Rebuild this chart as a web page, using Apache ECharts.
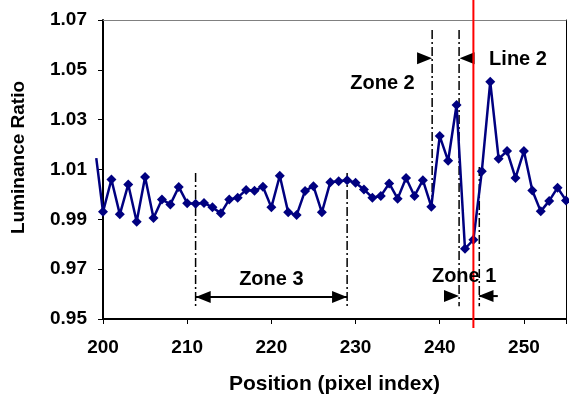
<!DOCTYPE html>
<html>
<head>
<meta charset="utf-8">
<script src="https://cdn.jsdelivr.net/npm/echarts@6/dist/echarts.min.js"></script>
<style>
  html, body { margin: 0; padding: 0; background: #fff; }
  #chart { width: 569px; height: 400px; }
</style>
</head>
<body>
<div id="chart"></div>
<script>
// pixel index positions
const positions = [200, 201, 202, 203, 204, 205, 206, 207, 208, 209,
  210, 211, 212, 213, 214, 215, 216, 217, 218, 219,
  220, 221, 222, 223, 224, 225, 226, 227, 228, 229,
  230, 231, 232, 233, 234, 235, 236, 237, 238, 239,
  240, 241, 242, 243, 244, 245, 246, 247, 248, 249,
  250, 251, 252, 253, 254, 255]
const luminance = [0.993, 1.006, 0.992, 1.004, 0.989, 1.007, 0.9905, 0.998, 0.996, 1.003,
  0.9965, 0.9963, 0.9966, 0.9948, 0.9924, 0.998, 0.9987, 1.0018, 1.0015, 1.0031,
  0.9948, 1.0075, 0.9928, 0.9917, 1.0014, 1.0033, 0.9928, 1.0049, 1.0053, 1.0057,
  1.0047, 1.002, 0.9987, 0.9994, 1.0044, 0.9983, 1.0066, 0.9994, 1.0057, 0.9951,
  1.0234, 1.0135, 1.0359, 0.9782, 0.9818, 1.0093, 1.0452, 1.0143, 1.0174, 1.0066,
  1.0174, 1.0016, 0.9932, 0.9974, 1.0027, 0.9976]
// the curve enters from just left of the axis
const leadIn = [[199.2, 1.0146], [200, 0.993]]

const xTicks = [200, 210, 220, 230, 240, 250]
const yTicks = [0.95, 0.97, 0.99, 1.01, 1.03, 1.05, 1.07]

// red marker line (Line 2)
const line2X = 244
const line2Span = [1.078, 0.9464]

// dash-dot zone boundaries: [x, yTop, yBottom]
const zoneBounds = [
  [211, 1.0086, 0.9551],
  [229, 1.0086, 0.9551],
  [239.1, 1.066, 0.997],
  [242.3, 1.066, 0.9551],
  [244.7, 1.011, 0.9551]
]

// arrows: shaft segments and heads [x, y, direction]
const zone3Shaft = [[211, 0.9588], [229, 0.9588]]
const zone1Tail = [[244.7, 0.9592], [246.9, 0.9592]]
const arrowHeads = [
  [211.9, 0.9588, 'left'],
  [228.1, 0.9588, 'right'],
  [238.2, 1.0546, 'right'],
  [243.25, 1.0546, 'left'],
  [241.4, 0.9592, 'right'],
  [245.5, 0.9592, 'left']
]

// annotation labels [x, y, text]
const labels = [
  [220.0, 0.9658, 'Zone 3'],
  [242.9, 0.967, 'Zone 1'],
  [233.2, 1.0444, 'Zone 2'],
  [249.3, 1.0543, 'Line 2']
]

const chart = echarts.init(document.getElementById('chart'))
const font = 'Liberation Sans, Arial, sans-serif'

const boundSeries = zoneBounds.map(b => ({
  type: 'line',
  data: [[b[0], b[1]], [b[0], b[2]]],
  symbol: 'none',
  clip: false,
  silent: true,
  lineStyle: { color: '#000', width: 1.5, type: [9, 3, 2, 3] },
  z: 1
}))

const option = {
  animation: false,
  grid: { left: 103, right: 2, top: 20, bottom: 77, containLabel: false },
  xAxis: [
    {
      type: 'value',
      min: 200,
      max: 255,
      interval: 10,
      name: 'Position (pixel index)',
      nameLocation: 'middle',
      nameGap: 55,
      nameTextStyle: { fontFamily: font, fontWeight: 'bold', fontSize: 21, color: '#000' },
      axisLine: { show: true, lineStyle: { color: '#000', width: 2 } },
      axisTick: { show: true, inside: false, length: 5, lineStyle: { color: '#000' } },
      axisLabel: {
        margin: 19,
        fontFamily: font, fontWeight: 'bold', fontSize: 19, color: '#000',
        formatter: v => (xTicks.includes(v) ? String(v) : '')
      },
      splitLine: { show: false }
    },
    {
      type: 'value',
      position: 'top',
      min: 200,
      max: 255,
      axisLine: { show: true, lineStyle: { color: '#808080', width: 1 } },
      axisTick: { show: false },
      axisLabel: { show: false },
      splitLine: { show: false }
    }
  ],
  yAxis: [
    {
      type: 'value',
      min: 0.95,
      max: 1.07,
      interval: 0.02,
      name: 'Luminance Ratio',
      nameLocation: 'middle',
      nameGap: 75,
      nameTextStyle: { fontFamily: font, fontWeight: 'bold', fontSize: 19, color: '#000', padding: [0, 0, 0, 24] },
      axisLine: { show: true, lineStyle: { color: '#000', width: 2 } },
      axisTick: { show: true, inside: false, length: 5, lineStyle: { color: '#000' } },
      axisLabel: {
        margin: 16,
        fontFamily: font, fontWeight: 'bold', fontSize: 19, color: '#000',
        formatter: v => {
          const t = yTicks.find(y => Math.abs(y - v) < 1e-6)
          return t !== undefined ? t.toFixed(2) : ''
        }
      },
      splitLine: { show: false }
    },
    {
      type: 'value',
      position: 'right',
      min: 0.95,
      max: 1.07,
      axisLine: { show: true, lineStyle: { color: '#000', width: 1 } },
      axisTick: { show: false },
      axisLabel: { show: false },
      splitLine: { show: false }
    }
  ],
  series: [
    ...boundSeries,
    {
      type: 'line',
      data: zone3Shaft,
      symbol: 'none',
      clip: false,
      silent: true,
      lineStyle: { color: '#000', width: 2 },
      z: 1
    },
    {
      type: 'line',
      data: zone1Tail,
      symbol: 'none',
      clip: false,
      silent: true,
      lineStyle: { color: '#000', width: 2 },
      z: 1
    },
    {
      type: 'scatter',
      data: arrowHeads.map(a => ({
        value: [a[0], a[1]],
        symbolRotate: a[2] === 'right' ? -90 : 90
      })),
      symbol: 'triangle',
      symbolSize: [12, 15],
      clip: false,
      silent: true,
      itemStyle: { color: '#000', opacity: 1 },
      z: 2
    },
    {
      // lead-in segment drawn through the axes' own scales
      type: 'custom',
      data: [[200, 0.993]],
      clip: false,
      silent: true,
      z: 3,
      renderItem: (params, api) => ({
        type: 'polyline',
        shape: { points: leadIn.map(p => api.coord(p)) },
        style: { stroke: '#000080', lineWidth: 2.5, fill: null }
      })
    },
    {
      type: 'line',
      data: positions.map((p, i) => [p, luminance[i]]),
      clip: false,
      symbol: 'diamond',
      symbolSize: 10,
      showAllSymbol: true,
      lineStyle: { color: '#000080', width: 2.5 },
      itemStyle: { color: '#000080' },
      z: 3
    },
    {
      type: 'line',
      data: [[line2X, line2Span[0]], [line2X, line2Span[1]]],
      symbol: 'none',
      clip: false,
      silent: true,
      lineStyle: { color: '#ff0000', width: 2 },
      z: 4
    },
    {
      type: 'scatter',
      data: labels.map(l => ({ value: [l[0], l[1]], name: l[2] })),
      symbolSize: 0,
      clip: false,
      silent: true,
      itemStyle: { opacity: 1 },
      label: {
        show: true,
        position: 'inside',
        formatter: p => p.name,
        fontFamily: font,
        fontWeight: 'bold',
        fontSize: 20,
        color: '#000',
        opacity: 1
      },
      z: 5
    }
  ]
}

chart.setOption(option)
</script>
</body>
</html>
